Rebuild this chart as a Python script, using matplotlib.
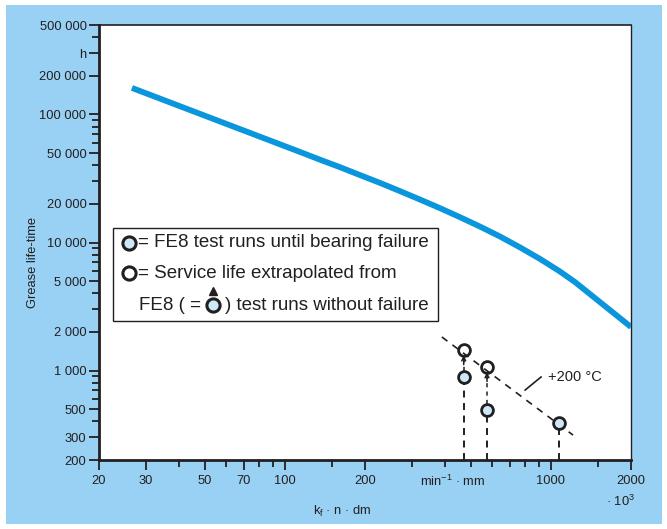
import matplotlib
matplotlib.use("Agg")
import matplotlib.pyplot as plt
from matplotlib.patches import Rectangle
from matplotlib.ticker import FixedLocator, FixedFormatter, NullFormatter
import matplotlib.transforms as mtransforms

plt.rcParams['font.family'] = ['Liberation Sans', 'DejaVu Sans']
plt.rcParams['lines.scale_dashes'] = False

dark = '#231f20'
bg = '#98d1f3'
curve_col = '#0a96dc'
fill_col = '#cde9f8'

# grease life curve, x in 10^3 min^-1 mm, y in h
curve_x = [26.6, 114, 135, 161, 191, 228, 271, 322, 383, 455, 541, 644,
           765, 910, 1082, 1232, 2000]
curve_y = [161200, 50950, 44470, 38770, 33700, 29180, 25180, 21650, 18540,
           15770, 13320, 11130, 9160, 7440, 5930, 4907, 2188]

# FE8 runs until failure (filled) and extrapolated service life (open)
fail_x = [470, 575, 1070]
fail_y = [890, 490, 389]
extrap_x = [470, 575]
extrap_y = [1446, 1067]

# +200 °C trend line
trend_x = [389, 1211]
trend_y = [1828, 313]
label_line_x = [800, 918]
label_line_y = [704, 890]

xticks_major = [20, 30, 50, 70, 100, 200, 1000, 2000]
xtick_labels = ['20', '30', '50', '70', '100', '200', '1000', '2000']
xticks_minor = [40, 60, 80, 90, 150, 300, 400, 500, 600, 700, 800, 900, 1500]
yticks_major = [200, 300, 500, 1000, 2000, 5000, 10000, 20000, 50000,
                100000, 200000, 300000, 500000]
ytick_labels = ['200', '300', '500', '1 000', '2 000', '5 000', '10 000',
                '20 000', '50 000', '100 000', '200 000', 'h', '500 000']
yticks_minor = [400, 600, 700, 800, 900, 3000, 4000, 6000, 7000, 8000, 9000,
                30000, 40000, 60000, 70000, 80000, 90000, 400000]

W, H = 667, 529
fig = plt.figure(figsize=(W / 100, H / 100), dpi=100, facecolor='white')
fig.patches.append(Rectangle((6 / W, 5 / H), (662 - 6) / W, (524 - 5) / H,
                             transform=fig.transFigure, facecolor=bg,
                             edgecolor='none', zorder=-10))

ax = fig.add_axes([99 / W, (H - 460) / H, (631 - 99) / W, (460 - 25) / H])
ax.set_facecolor('white')
ax.set_xscale('log')
ax.set_yscale('log')
ax.set_xlim(20, 2000)
ax.set_ylim(200, 500000)

ax.plot(curve_x, curve_y, color=curve_col, lw=4.2, solid_capstyle='butt',
        solid_joinstyle='round', zorder=3)

# trend line and label
ax.plot(trend_x, trend_y, color=dark, lw=1.2, dashes=(5, 4.5), zorder=2)
ax.plot(label_line_x, label_line_y, color=dark, lw=1.2, zorder=2)
ax.text(975, 890, '+200 °C', fontsize=10.5, color=dark, va='center', ha='left')

# vertical dashed lines from axis to filled markers
for fx, fy in zip(fail_x, fail_y):
    ax.plot([fx, fx], [200, fy], color=dark, lw=1.4, dashes=(5, 4), zorder=2)

# arrows from failure runs to extrapolated life
for ex, ey, fy in zip(extrap_x, extrap_y, fail_y):
    ax.plot([ex, ex], [fy * 1.12, ey / 1.12], color=dark, lw=1.1, dashes=(3, 3), zorder=2)
    ax.annotate('', xy=(ex, ey / 1.1), xytext=(ex, ey / 1.3),
                arrowprops=dict(arrowstyle='->', color=dark, lw=1.1,
                                shrinkA=0, shrinkB=0, mutation_scale=7),
                zorder=2)

ax.plot(fail_x, fail_y, 'o', ms=8.5, mfc=fill_col, mec=dark, mew=2, zorder=4)
ax.plot(extrap_x, extrap_y, 'o', ms=8.5, mfc='none', mec=dark, mew=2, zorder=4)

# legend box
ax.add_patch(Rectangle((0.0265, 0.3195), 0.611, 0.2135, transform=ax.transAxes,
                       facecolor='white', edgecolor=dark, lw=1.0, zorder=5))
leg_rows = [0.500, 0.429, 0.356]
fs_leg = 13.5
ax.plot([0.0564], [leg_rows[0]], 'o', ms=9.5, mfc=fill_col, mec=dark, mew=2.2,
        transform=ax.transAxes, zorder=6)
ax.plot([0.0564], [leg_rows[1]], 'o', ms=9.5, mfc='white', mec=dark, mew=2.2,
        transform=ax.transAxes, zorder=6)
ax.text(0.073, leg_rows[0], '= FE8 test runs until bearing failure', fontsize=fs_leg,
        color=dark, va='center', ha='left', transform=ax.transAxes, zorder=6)
ax.text(0.073, leg_rows[1], '= Service life extrapolated from', fontsize=fs_leg,
        color=dark, va='center', ha='left', transform=ax.transAxes, zorder=6)
ax.text(0.0755, leg_rows[2], 'FE8 ( =', fontsize=fs_leg,
        color=dark, va='center', ha='left', transform=ax.transAxes, zorder=6)
ax.plot([0.214], [leg_rows[2]], 'o', ms=9.5, mfc=fill_col, mec=dark, mew=2.2,
        transform=ax.transAxes, zorder=6)
ax.plot([0.214], [leg_rows[2] + 0.033], '^', ms=6, color=dark,
        transform=ax.transAxes, zorder=6)
ax.text(0.2365, leg_rows[2], ') test runs without failure', fontsize=fs_leg,
        color=dark, va='center', ha='left', transform=ax.transAxes, zorder=6)

# ticks
ax.xaxis.set_major_locator(FixedLocator(xticks_major))
ax.xaxis.set_major_formatter(FixedFormatter(xtick_labels))
ax.xaxis.set_minor_locator(FixedLocator(xticks_minor))
ax.xaxis.set_minor_formatter(NullFormatter())
ax.yaxis.set_major_locator(FixedLocator(yticks_major))
ax.yaxis.set_major_formatter(FixedFormatter(ytick_labels))
ax.yaxis.set_minor_locator(FixedLocator(yticks_minor))
ax.yaxis.set_minor_formatter(NullFormatter())
ax.tick_params(which='major', direction='out', length=7, width=1.3, color=dark,
               labelsize=9.3, labelcolor=dark)
ax.tick_params(which='minor', direction='out', length=5, width=1.3, color=dark)
ax.tick_params(axis='x', which='major', pad=4)
ax.tick_params(axis='y', which='major', pad=2)

for side, lw in [('left', 2.0), ('bottom', 2.0), ('top', 1.2), ('right', 1.0)]:
    ax.spines[side].set_linewidth(lw)
    ax.spines[side].set_color(dark)

# axis captions
ax.set_ylabel('Grease life-time', fontsize=9.3, color=dark)
ax.yaxis.set_label_coords(-0.112, 0.455)
trans = mtransforms.blended_transform_factory(ax.transData, ax.transAxes)
ax.text(428, -0.05, 'min$^{\\mathregular{-1}}$ · mm', fontsize=9.3, color=dark,
        ha='center', va='center', transform=trans)
fig.text(342 / W, 1 - 511 / H, 'k$_\\mathregular{f}$ · n · dm', fontsize=9.3,
         color=dark, ha='center', va='center')
fig.text(620 / W, 1 - 501 / H, '· 10$^\\mathregular{3}$', fontsize=9.3,
         color=dark, ha='center', va='center')

fig.savefig('out.png', dpi=100, facecolor='white')
